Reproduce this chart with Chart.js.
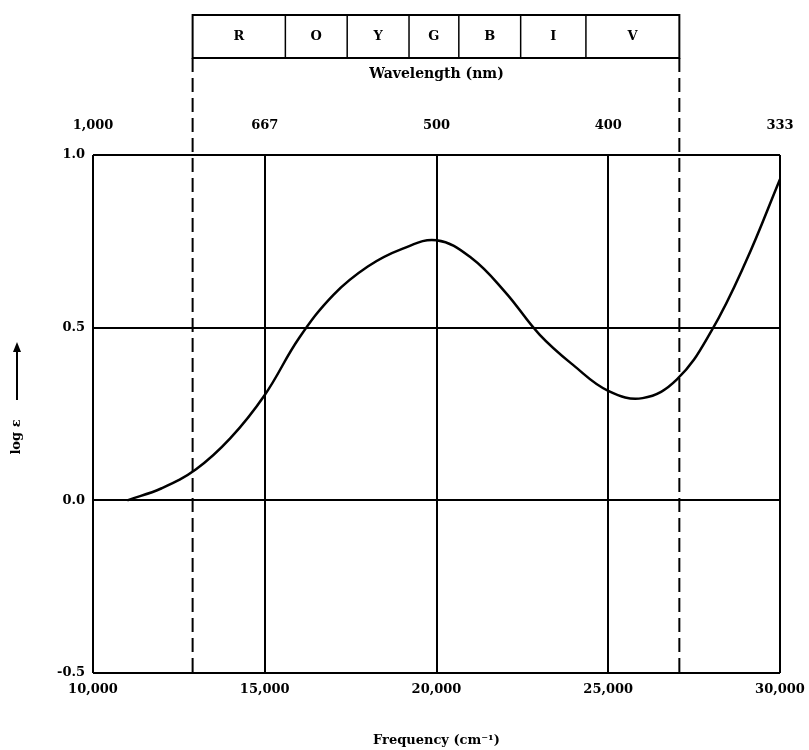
<!DOCTYPE html>
<html lang="en">
<head>
    <meta charset="UTF-8">
    <title>Absorption spectrum</title>
    <style>
        body {
            margin: 0;
            padding: 0;
            background: #fff;
        }
        canvas {
            display: block;
        }
    </style>
    <script src="https://cdn.jsdelivr.net/npm/chart.js"></script>
</head>
<body>
    <canvas id="spectrum" width="809" height="750"></canvas>
    <script>
        // curve
        const freq = [11000, 12000, 13000, 14000, 15000, 16000, 17000, 18000, 19000, 20000, 21000, 22000, 23000, 24000, 25000, 26000, 27000, 28000, 29000, 30000];
        const logEps = [0.0, 0.035, 0.09, 0.18, 0.305, 0.47, 0.595, 0.677, 0.728, 0.753, 0.703, 0.603, 0.48, 0.39, 0.317, 0.296, 0.35, 0.49, 0.69, 0.93];

        // colour bands (cm-1 edges) and their letters
        const bandEdges = [12900, 15600, 17400, 19200, 20650, 22450, 24350, 27070];
        const bandLabels = ['R', 'O', 'Y', 'G', 'B', 'I', 'V'];

        const freqTicks = [10000, 15000, 20000, 25000, 30000];
        const freqLabels = ['10,000', '15,000', '20,000', '25,000', '30,000'];
        const waveLabels = ['1,000', '667', '500', '400', '333'];
        const yTickLabels = {'-0.5': '-0.5', '0': '0.0', '0.5': '0.5', '1': '1.0'};

        const FONT = '"DejaVu Serif", serif';

        const decor = {
            id: 'decor',
            afterDraw(chart) {
                const {ctx, chartArea, scales} = chart;
                const x = scales.x;
                const boxTop = 15, boxBottom = 58;
                ctx.save();
                ctx.strokeStyle = '#000';
                ctx.fillStyle = '#000';

                // band box
                const xl = x.getPixelForValue(bandEdges[0]);
                const xr = x.getPixelForValue(bandEdges[bandEdges.length - 1]);
                ctx.lineWidth = 2;
                ctx.strokeRect(xl, boxTop, xr - xl, boxBottom - boxTop);
                ctx.lineWidth = 1.5;
                for (let i = 1; i < bandEdges.length - 1; i++) {
                    const px = x.getPixelForValue(bandEdges[i]);
                    ctx.beginPath();
                    ctx.moveTo(px, boxTop);
                    ctx.lineTo(px, boxBottom);
                    ctx.stroke();
                }
                ctx.font = 'bold 13px ' + FONT;
                ctx.textAlign = 'center';
                ctx.textBaseline = 'middle';
                for (let i = 0; i < bandLabels.length; i++) {
                    const a = x.getPixelForValue(bandEdges[i]);
                    const b = x.getPixelForValue(bandEdges[i + 1]);
                    ctx.fillText(bandLabels[i], (a + b) / 2, (boxTop + boxBottom) / 2);
                }

                // dashed limits of the visible range
                ctx.lineWidth = 2;
                ctx.setLineDash([14, 6]);
                [xl, xr].forEach(px => {
                    ctx.beginPath();
                    ctx.moveTo(px, boxBottom);
                    ctx.lineTo(px, chartArea.bottom);
                    ctx.stroke();
                });
                ctx.setLineDash([]);

                // y title: log e with arrow
                ctx.translate(17, 0);
                ctx.rotate(-Math.PI / 2);
                ctx.font = 'bold 13px ' + FONT;
                ctx.textAlign = 'center';
                ctx.fillText('log ε', -437, 0);
                ctx.lineWidth = 2;
                ctx.beginPath();
                ctx.moveTo(-400, 0);
                ctx.lineTo(-348, 0);
                ctx.stroke();
                ctx.beginPath();
                ctx.moveTo(-342, 0);
                ctx.lineTo(-352, -4);
                ctx.lineTo(-352, 4);
                ctx.closePath();
                ctx.fill();
                ctx.restore();
            }
        };

        const ctx = document.getElementById('spectrum').getContext('2d');
        new Chart(ctx, {
            type: 'line',
            data: {
                datasets: [{
                    data: freq.map((f, i) => ({x: f, y: logEps[i]})),
                    borderColor: '#000',
                    borderWidth: 2.5,
                    pointRadius: 0,
                    fill: false,
                    tension: 0.4
                }]
            },
            options: {
                responsive: false,
                animation: false,
                devicePixelRatio: 1,
                layout: {padding: {left: 0, right: 29, top: 0, bottom: 0}},
                plugins: {legend: {display: false}, tooltip: {enabled: false}},
                scales: {
                    x: {
                        type: 'linear',
                        position: 'bottom',
                        min: 10000,
                        max: 30000,
                        afterBuildTicks: s => { s.ticks = freqTicks.map(v => ({value: v})); },
                        afterFit: s => { s.height = 77; s.paddingLeft = 0; s.paddingRight = 0; },
                        ticks: {
                            color: '#000',
                            padding: 9,
                            maxRotation: 0,
                            font: {family: FONT, size: 13, weight: 'bold'},
                            callback: (v) => freqLabels[freqTicks.indexOf(v)]
                        },
                        grid: {color: '#000', lineWidth: 2, drawTicks: false},
                        border: {display: false},
                        title: {
                            display: true,
                            text: 'Frequency (cm⁻¹)',
                            color: '#000',
                            padding: {top: 0, bottom: 2},
                            font: {family: FONT, size: 13, weight: 'bold'}
                        }
                    },
                    xTop: {
                        type: 'linear',
                        position: 'top',
                        min: 10000,
                        max: 30000,
                        afterBuildTicks: s => { s.ticks = freqTicks.map(v => ({value: v})); },
                        afterFit: s => { s.height = 155; s.paddingLeft = 0; s.paddingRight = 0; },
                        ticks: {
                            color: '#000',
                            padding: 22,
                            maxRotation: 0,
                            font: {family: FONT, size: 13, weight: 'bold'},
                            callback: (v) => waveLabels[freqTicks.indexOf(v)]
                        },
                        grid: {display: false, drawTicks: false},
                        border: {display: false},
                        title: {
                            display: true,
                            text: 'Wavelength (nm)',
                            color: '#000',
                            padding: {top: 66, bottom: 0},
                            font: {family: FONT, size: 14, weight: 'bold'}
                        }
                    },
                    y: {
                        min: -0.5,
                        max: 1.0,
                        afterFit: s => { s.width = 93; },
                        ticks: {
                            stepSize: 0.5,
                            color: '#000',
                            padding: 8,
                            font: {family: FONT, size: 13, weight: 'bold'},
                            callback: (v) => yTickLabels[String(v)]
                        },
                        grid: {color: '#000', lineWidth: 2, drawTicks: false},
                        border: {display: false}
                    }
                }
            },
            plugins: [decor]
        });
    </script>
</body>
</html>
